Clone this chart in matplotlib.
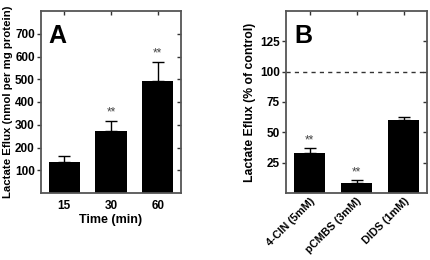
import matplotlib
matplotlib.use("Agg")
import matplotlib.pyplot as plt
import numpy as np

plt.rcParams['font.family'] = ['Liberation Sans', 'DejaVu Sans']
plt.rcParams['font.weight'] = 'bold'

# Panel A data
a_categories = ['15', '30', '60']
a_values = [137, 273, 494]
a_errors = [26, 44, 81]
a_stars = ['', '**', '**']

# Panel B data
b_categories = ['4-CIN (5mM)', 'pCMBS (3mM)', 'DIDS (1mM)']
b_values = [33, 8, 60]
b_errors = [4, 3, 2.3]
b_stars = ['**', '**', '']
b_control = 100

fig = plt.figure(figsize=(4.3, 2.6), dpi=100)
W, H = 430, 260

def add_ax(l, t, r, b):
    return fig.add_axes([l / W, 1 - b / H, (r - l) / W, (b - t) / H])

spine_col = '#555555'

def style(ax):
    for s in ax.spines.values():
        s.set_color(spine_col)
        s.set_linewidth(1.3)
    ax.tick_params(axis='y', left=True, right=True, direction='out', length=3,
                   width=1, color='#333333', labelsize=8.5, pad=1.5)
    ax.tick_params(axis='x', bottom=False, top=True, direction='in', length=3,
                   width=1, color='#333333', labelsize=8.5)
    for t in ax.yaxis.get_major_ticks():
        t.tick2line.set_marker(matplotlib.lines.TICKLEFT)
    for lab in ax.get_yticklabels() + ax.get_xticklabels():
        lab.set_fontweight('bold')

# ---- Panel A ----
axA = add_ax(41, 11, 181, 193)
xa = np.arange(len(a_values))
axA.bar(xa, a_values, width=0.67, color='black', zorder=2)
axA.errorbar(xa, a_values, yerr=[np.zeros(len(a_errors)), a_errors], fmt='none',
             ecolor='black', elinewidth=1, capsize=4, capthick=1, zorder=3)
for x, v, e, s in zip(xa, a_values, a_errors, a_stars):
    if s:
        axA.text(x, v + e + 10, s, ha='center', va='bottom', fontsize=8.5,
                 color='#444444', fontweight='normal')
axA.set_xlim(-0.5, 2.5)
axA.set_ylim(0, 800)
axA.set_yticks([100, 200, 300, 400, 500, 600, 700])
axA.set_xticks(xa)
axA.set_xticklabels(a_categories)
axA.tick_params(axis='x', labelbottom=True, pad=5)
style(axA)
axA.set_xlabel('Time (min)', fontsize=9, fontweight='bold', labelpad=1.5)
axA.set_ylabel('Lactate Eflux (nmol per mg protein)', fontsize=8.2, fontweight='bold', labelpad=1)
axA.text(0.05, 0.93, 'A', transform=axA.transAxes, fontsize=18, fontweight='bold',
         ha='left', va='top')

# ---- Panel B ----
axB = add_ax(286, 11, 427, 193)
xb = np.arange(len(b_values))
axB.bar(xb, b_values, width=0.68, color='black', zorder=2)
axB.errorbar(xb, b_values, yerr=[np.zeros(len(b_errors)), b_errors], fmt='none',
             ecolor='black', elinewidth=1, capsize=4, capthick=1, zorder=3)
for x, v, e, s in zip(xb, b_values, b_errors, b_stars):
    if s:
        axB.text(x, v + e + 1.2, s, ha='center', va='bottom', fontsize=8.5,
                 color='#444444', fontweight='normal')
axB.axhline(b_control, color='#333333', linestyle=(0, (3, 3)), linewidth=1, zorder=1)
axB.set_xlim(-0.5, 2.5)
axB.set_ylim(0, 150)
axB.set_yticks([25, 50, 75, 100, 125])
axB.set_xticks(xb)
axB.set_xticklabels(b_categories, rotation=45, ha='right', rotation_mode='anchor')
style(axB)
axB.tick_params(axis='x', pad=2)
for lab in axB.get_xticklabels():
    lab.set_fontsize(7.8)
axB.set_ylabel('Lactate Eflux (% of control)', fontsize=8.8, fontweight='bold', labelpad=3)
axB.text(0.06, 0.93, 'B', transform=axB.transAxes, fontsize=18, fontweight='bold',
         ha='left', va='top')

fig.savefig('out.png', dpi=100)
